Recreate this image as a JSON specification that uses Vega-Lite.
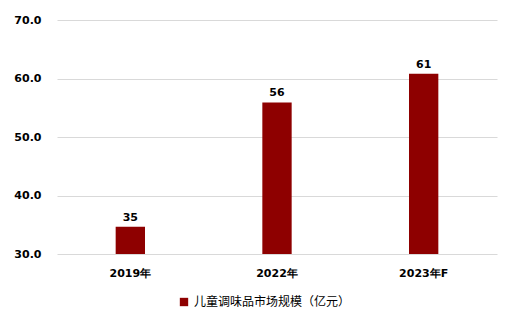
{
  "$schema": "https://vega.github.io/schema/vega-lite/v6.json",
  "autosize": "none",
  "width": 440,
  "height": 234,
  "padding": {"left": 57, "top": 20, "right": 23, "bottom": 76},
  "background": "white",
  "config": {
    "view": {"stroke": null},
    "font": "DejaVu Sans"
  },
  "data": {
    "values": [
      {"year": "2019年", "value": 34.65, "series": "儿童调味品市场规模（亿元）"},
      {"year": "2022年", "value": 55.9, "series": "儿童调味品市场规模（亿元）"},
      {"year": "2023年F", "value": 60.8, "series": "儿童调味品市场规模（亿元）"}
    ]
  },
  "encoding": {
    "x": {
      "field": "year", "type": "nominal", "sort": null,
      "scale": {"paddingInner": 0.8, "paddingOuter": 0.4},
      "axis": {"title": null, "labelAngle": 0, "ticks": false, "domain": false,
        "labelFontSize": 11, "labelFontWeight": "bold", "labelColor": "#000000", "labelPadding": 13}
    },
    "y": {
      "field": "value", "type": "quantitative",
      "scale": {"domain": [30, 70], "zero": false, "nice": false},
      "axis": {"title": null, "values": [30, 40, 50, 60, 70], "format": ".1f", "ticks": false, "domain": false,
        "gridColor": "#d9d9d9", "labelFontSize": 11, "labelFontWeight": "bold", "labelColor": "#000000", "labelPadding": 16}
    }
  },
  "layer": [
    {
      "mark": {"type": "bar", "clip": true},
      "encoding": {
        "color": {
          "field": "series", "type": "nominal",
          "scale": {"range": ["#8E0000"]},
          "legend": {"title": null, "orient": "none", "legendX": 121, "legendY": 276,
            "symbolType": "square", "symbolSize": 70, "labelFontSize": 12, "labelColor": "#000000", "labelFont": "Noto Sans CJK SC"}
        }
      }
    },
    {
      "mark": {"type": "text", "baseline": "bottom", "dy": -4, "fontSize": 11, "fontWeight": "bold", "color": "#000000"},
      "encoding": {
        "text": {"field": "value", "type": "quantitative", "format": ".0f"}
      }
    }
  ]
}
